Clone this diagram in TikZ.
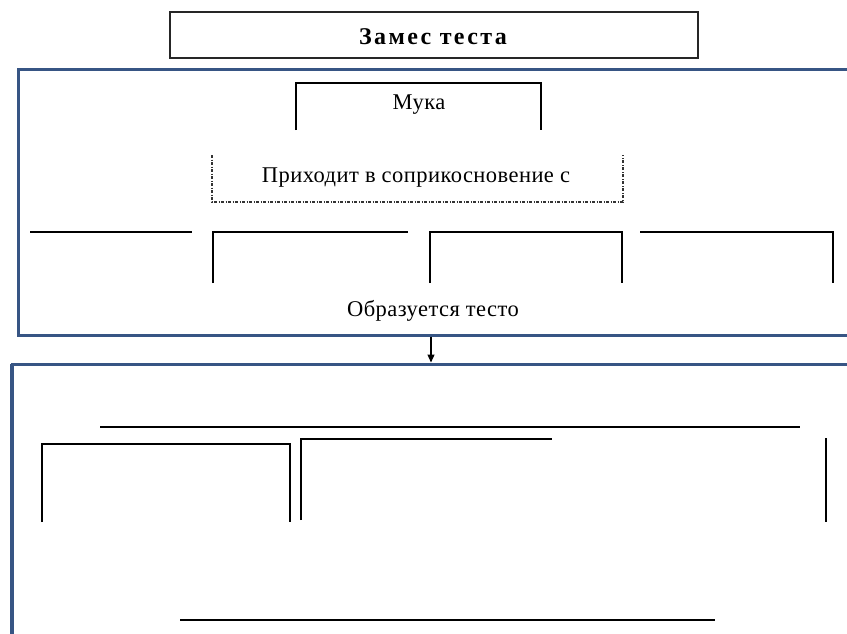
\documentclass[tikz,border=0pt]{standalone}
\usepackage{fontspec}
\setmainfont{Liberation Serif}
\newfontfamily\bodyfont[LetterSpace=2]{Liberation Serif}
\newfontfamily\titlefont[LetterSpace=10]{Liberation Serif}
\usetikzlibrary{arrows.meta}
\definecolor{frameblue}{RGB}{55,85,132}
\tikzset{
  frame/.style={draw=frameblue, line width=3pt},
  bracket/.style={draw=black, line width=1.4pt},
  dashbox/.style={draw=black!80, line width=1.2pt, dash pattern=on 3pt off 1.5pt on 1pt off 1.5pt},
  txt/.style={font=\bodyfont\fontsize{22.5}{26}\selectfont, inner sep=0pt},
  titlebox/.style={draw=black!85, line width=1.6pt},
}
\begin{document}
\begin{tikzpicture}[x=1pt,y=-1pt]
\useasboundingbox (0,0) rectangle (847,633);
\clip (0,0) rectangle (847,633);
\fill[white] (0,0) rectangle (847,633);
% title
\draw[titlebox] (170,12) rectangle (698,58);
\node[font=\titlefont\bfseries\fontsize{24}{28}\selectfont, inner sep=0pt] (title) at (433,37) {Замес теста};
% frame 1
\draw[frame] (860,69) -- (18,69) -- (18,335) -- (860,335);
% frame 2
\draw[frame] (860,364) -- (12,364) -- (12,650);
\draw[frameblue, line width=4.5pt] (12,364) -- (12,650);
% arrow
\coordinate (f1b) at (431,336.5);
\coordinate (f2t) at (431,362.5);
\draw[line width=1.2pt, -{Triangle[length=8pt,width=7pt]}] (f1b) -- (f2t);
% Мука
\draw[bracket] (296,130) -- (296,83) -- (541,83) -- (541,130);
\node[txt] (muka) at (419,105) {Мука};
% dashed box
\draw[dashbox] (212,155) -- (212,202) -- (623,202) -- (623,155);
\node[txt] (prih) at (416,178) {Приходит в соприкосновение с};
% row of brackets
\draw[bracket] (30,232) -- (192,232);
\draw[bracket] (213,283) -- (213,232) -- (408,232);
\draw[bracket] (430,283) -- (430,232) -- (622,232) -- (622,283);
\draw[bracket] (640,232) -- (833,232) -- (833,283);
\node[txt] (testo) at (433,311) {Образуется тесто};
% lower frame contents
\draw[bracket] (100,427) -- (800,427);
\draw[bracket] (42,522) -- (42,444) -- (290,444) -- (290,522);
\draw[bracket] (301,520) -- (301,439) -- (552,439);
\draw[bracket] (826,438) -- (826,522);
\draw[bracket] (180,620) -- (715,620);
\end{tikzpicture}
\end{document}
